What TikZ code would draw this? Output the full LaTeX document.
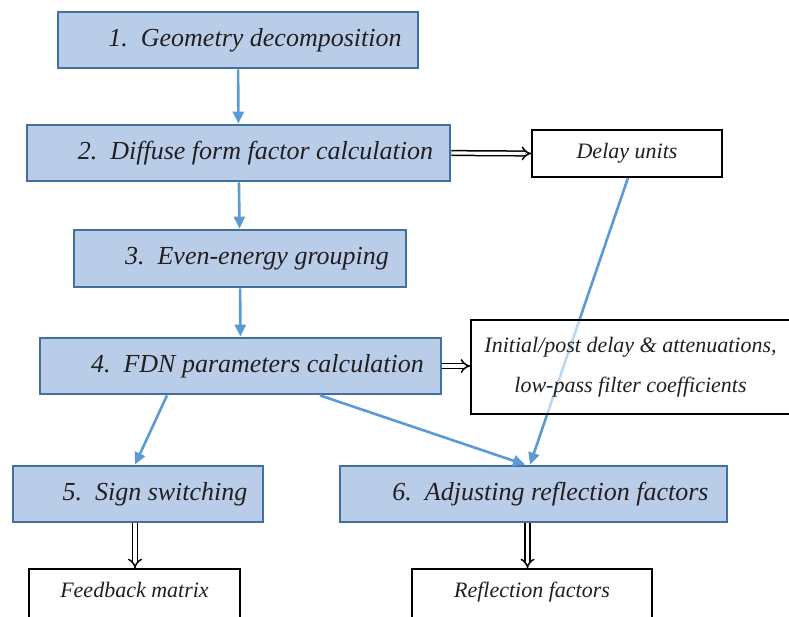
\documentclass[tikz,border=0pt]{standalone}
\usepackage{fontspec}
\setmainfont{Liberation Serif}[ItalicFont={Liberation Serif Italic}]
\usepackage{xcolor}
\usepackage{tikz}
\usetikzlibrary{shapes.geometric, arrows, arrows.meta}
\definecolor{stepfill}{HTML}{B9CDE9}
\definecolor{stepline}{HTML}{41719C}
\definecolor{flowblue}{HTML}{5B9BD5}
\definecolor{inkgray}{HTML}{231F20}
\tikzstyle{stepbox} = [rectangle, draw=stepline, fill=stepfill, line width=2.8pt, minimum height=56, inner sep=0pt, text=inkgray, font=\fontsize{26}{30}\selectfont\itshape]
\tikzstyle{outbox} = [rectangle, draw=black, fill=white, line width=1.7pt, inner sep=0pt, text=inkgray, font=\fontsize{22}{40}\selectfont\itshape, align=center]
\tikzstyle{arrow} = [line width=2.6pt, draw=flowblue, -{Triangle[length=12pt,width=11pt]}]
\tikzstyle{dblarrow} = [double=white, double distance=3.2pt, line width=1.5pt, -{Implies[length=7pt,width=12pt]}]

\begin{document}
\begin{tikzpicture}[line join=miter, x=1pt, y=-1pt]
    \useasboundingbox (0,0) rectangle (789,616);
    % steps
    \node[stepbox, minimum width=360] (geo) at (238,40) {\hspace*{34pt}1.\ \ Geometry decomposition};
    \node[stepbox, minimum width=423] (dff) at (238.5,153) {\hspace*{34pt}2.\ \ Diffuse form factor calculation};
    \node[stepbox, minimum width=332, minimum height=57] (grp) at (240,258.5) {\hspace*{34pt}3.\ \ Even-energy grouping};
    \node[stepbox, minimum width=401] (fdn) at (240.5,366) {\hspace*{34pt}4.\ \ FDN parameters calculation};
    \node[stepbox, minimum width=250] (sign) at (138,494) {\hspace*{34pt}5.\ \ Sign switching};
    \node[stepbox, minimum width=387] (adj) at (533.5,494) {\hspace*{34pt}6.\ \ Adjusting reflection factors};
    % outputs
    \node[outbox, minimum width=190, minimum height=47] (delay) at (627,153.5) {Delay units};
    \draw[arrow] ([xshift=1]delay.south) -- ([xshift=-3.5]adj.north);
    \node[outbox, minimum width=319, minimum height=94, fill opacity=0.6, text opacity=1] (init) at (630.5,367) {Initial/post delay \& attenuations,\\low-pass filter coefficients};
    \node[outbox, minimum width=211, minimum height=80, text depth=38pt] (fbm) at (134.5,609) {Feedback matrix};
    \node[outbox, minimum width=240, minimum height=80, text depth=38pt] (rfac) at (532,609) {Reflection factors};
    % flow
    \draw[arrow] (geo) -- (dff);
    \draw[arrow] (dff) -- (grp);
    \draw[arrow] (grp) -- (fdn);
    \draw[arrow] ([xshift=-73.5]fdn.south) -- ([xshift=-3]sign.north);
    \draw[arrow] ([xshift=79.5]fdn.south) -- ([xshift=-8.5]adj.north);
    % results
    \draw[dblarrow] (dff.east) -- (delay.west);
    \draw[dblarrow] (fdn.east) -- (fdn.east -| init.west);
    \draw[dblarrow] ([xshift=-3]sign.south) -- ([xshift=-3]sign.south |- fbm.north);
    \draw[dblarrow] ([xshift=-6]adj.south) -- ([xshift=-6]adj.south |- rfac.north);
\end{tikzpicture}
\end{document}
